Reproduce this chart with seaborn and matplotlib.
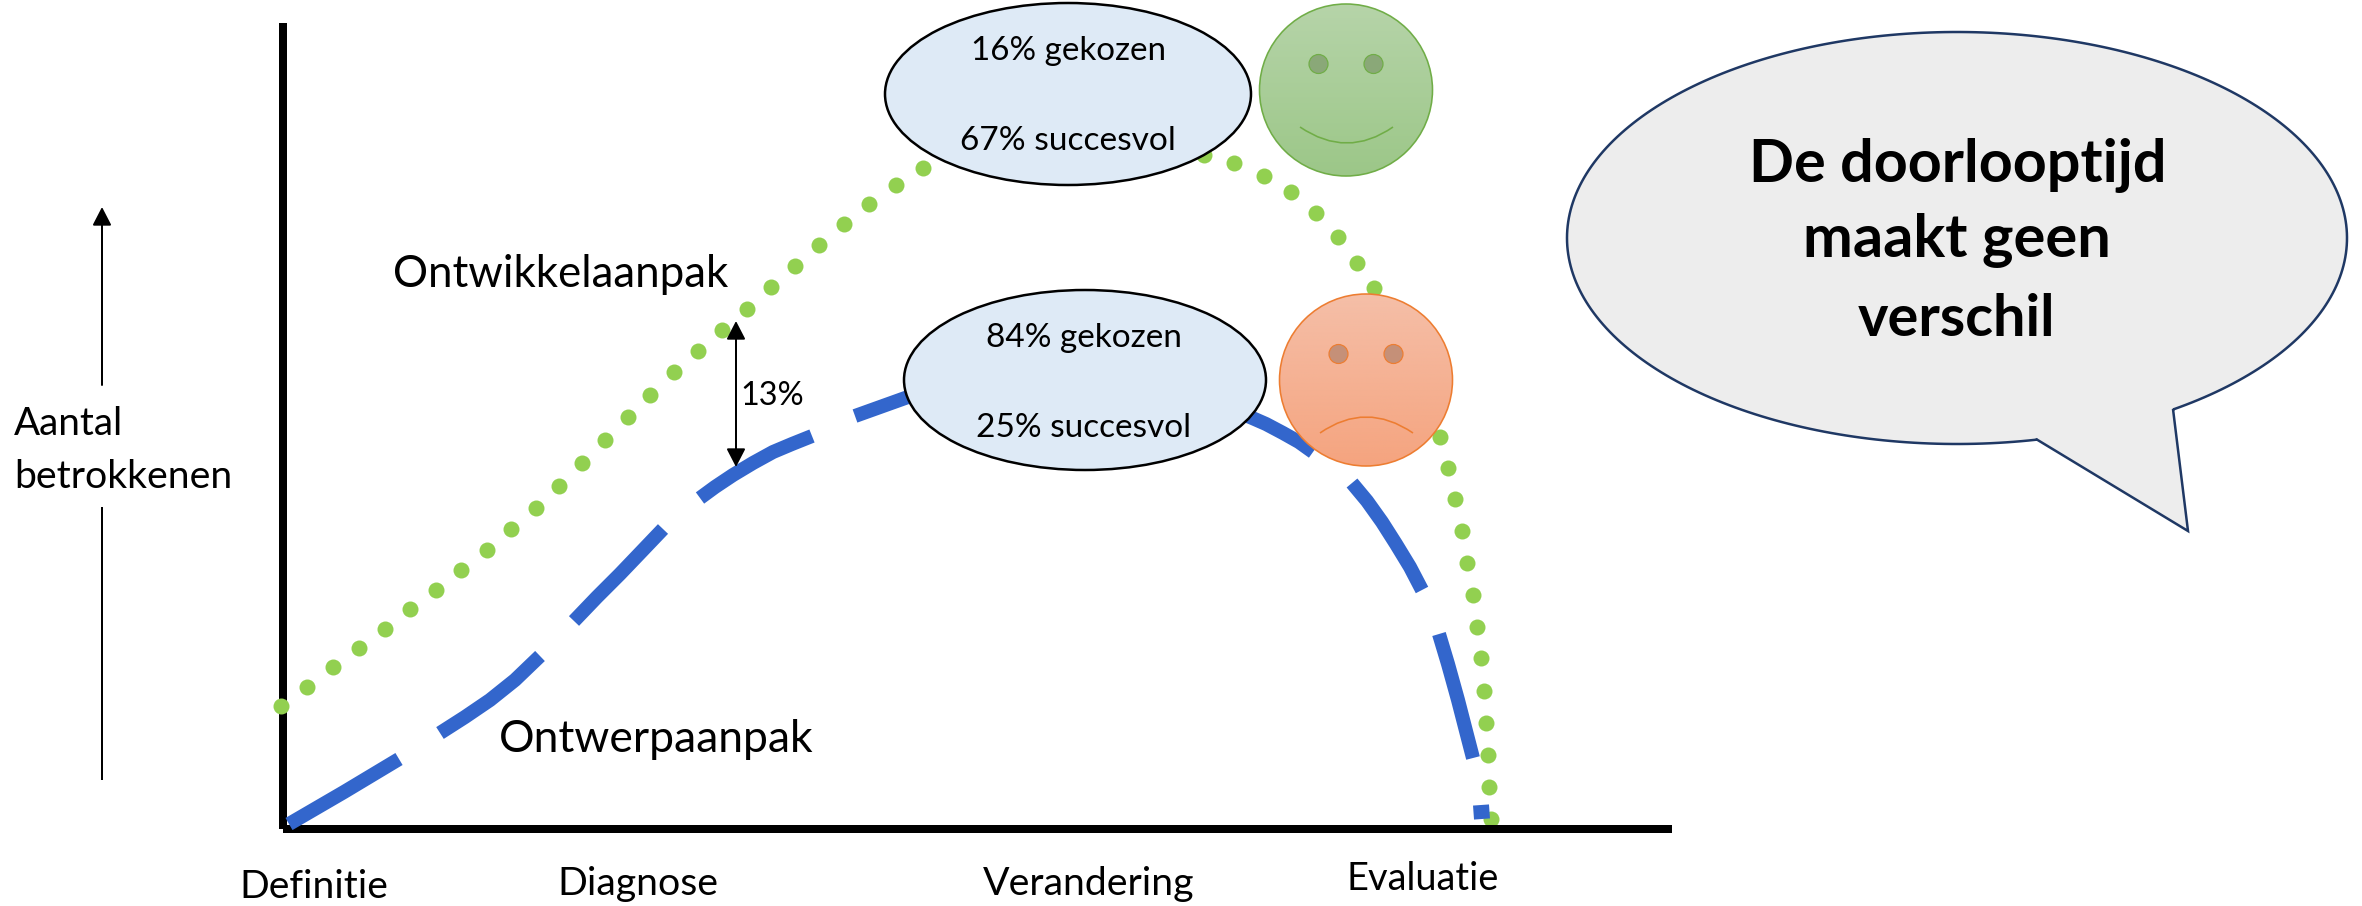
import numpy as np
import pandas as pd
import matplotlib
matplotlib.use("Agg")
import matplotlib.pyplot as plt
from matplotlib.patches import Ellipse, Polygon, PathPatch
from matplotlib.path import Path
from matplotlib.colors import LinearSegmentedColormap
import seaborn as sns

# ---- data (picture pixel scale) ----
green_x = [281, 307, 333, 359, 385, 410, 436, 461, 487, 511, 536, 559, 582, 605, 628, 650, 674, 698, 722, 747,
           771, 795, 819, 844, 869, 896, 923, 950, 978, 1008, 1038, 1070, 1102, 1134, 1165, 1185, 1204, 1234,
           1264, 1291, 1316, 1338, 1357, 1374, 1388, 1401, 1413, 1427, 1440, 1448, 1455, 1462, 1467, 1473,
           1477, 1481, 1484, 1486, 1488, 1489, 1491]
green_y = [706, 687, 667, 648, 629, 609, 590, 570, 550, 529, 508, 486, 463, 440, 417, 395, 372, 351, 330, 309,
           287, 266, 245, 224, 204, 185, 168, 146, 130, 118, 110, 108, 110, 117, 130, 142, 155, 163,
           176, 192, 213, 237, 263, 288, 316, 345, 375, 406, 437, 468, 499, 531, 563, 595,
           627, 658, 691, 723, 755, 787, 819]

blue_seg = [1, 1, 1,
            2, 2, 2, 2, 2,
            3, 3, 3, 3, 3,
            4, 4, 4, 4, 4, 4, 4,
            5, 5, 5,
            6, 6, 6,
            7, 7, 7, 7, 7, 7,
            8, 8, 8, 8, 8, 8,
            9, 9, 9, 9, 9,
            10, 10]
blue_x = [289, 344, 399,
          440, 465, 490, 515, 540,
          574, 597, 620, 642, 663,
          700, 715, 733, 753, 773, 792, 812,
          855, 908, 945,
          980, 1050, 1115,
          1150, 1250, 1266, 1283, 1299, 1313,
          1352, 1367, 1382, 1396, 1410, 1422,
          1439, 1448, 1458, 1466, 1473,
          1481, 1482]
blue_y = [824, 792, 759,
          733, 717, 700, 680, 656,
          621, 597, 574, 551, 529,
          498, 487, 475, 463, 452, 444, 436,
          416, 397, 386,
          378, 372, 375,
          382, 417, 424, 433, 442, 452,
          483, 501, 522, 544, 567, 590,
          634, 664, 700, 731, 758,
          805, 819]

stages = ["Definitie", "Diagnose", "Verandering", "Evaluatie"]
stage_x0 = [239, 557, 983, 1346]
stage_x1 = [387, 718, 1194, 1498]
stage_base = [898, 895, 895, 890]

text_rows = [
    ("16% gekozen", 971, 1166, 60, "normal"),
    ("67% succesvol", 960, 1176, 150, "normal"),
    ("84% gekozen", 986, 1182, 347, "normal"),
    ("25% succesvol", 976, 1191, 437, "normal"),
    ("13%", 740, 804, 405, "normal"),
    ("Aantal", 14, 123, 435, "normal"),
    ("betrokkenen", 14, 232, 488, "normal"),
    ("Ontwikkelaanpak", 393, 728, 287, "normal"),
    ("Ontwerpaanpak", 499, 813, 752, "normal"),
    ("De doorlooptijd", 1749, 2167, 182, "bold"),
    ("maakt geen", 1803, 2111, 257, "bold"),
    ("verschil", 1858, 2056, 336, "bold"),
]

GREEN = "#92d050"
BLUE = "#3366cc"

sns.set_theme(style="white")
plt.rcParams["font.family"] = ["Lato", "DejaVu Sans"]

fig = plt.figure(figsize=(23.62, 9.06), dpi=100)
ax = fig.add_axes([0, 0, 1, 1])
px = 0.72  # points per picture pixel

# chart axes
ax.plot([283, 283], [23, 829], color="black", lw=8 * px, solid_capstyle="butt", zorder=1)
ax.plot([283, 1672], [829, 829], color="black", lw=8 * px, solid_capstyle="butt", zorder=3)

# series
sns.scatterplot(x=green_x, y=green_y, color=GREEN, s=(16 * px) ** 2, linewidth=0, ax=ax, zorder=2, legend=False)
blue = pd.DataFrame({"x": blue_x, "y": blue_y, "seg": blue_seg})
sns.lineplot(data=blue, x="x", y="y", units="seg", estimator=None, sort=False, color=BLUE,
             lw=14 * px, solid_joinstyle="round", ax=ax, zorder=4, legend=False)
for ln in ax.lines[2:]:
    ln.set_solid_capstyle("butt")
ax.lines[-1].set_linewidth(16 * px)
ax.set_xlim(0, 2362)
ax.set_ylim(906, 0)
ax.axis("off")

# arrows
arrow = dict(arrowstyle="-|>,head_width=0.32,head_length=0.62", color="black", lw=2 * px,
             shrinkA=0, shrinkB=0, mutation_scale=18)
ax.annotate("", xy=(102, 207), xytext=(102, 385), arrowprops=arrow, zorder=5)
ax.plot([102, 102], [507, 780], color="black", lw=2 * px, solid_capstyle="butt", zorder=5)
both = dict(arrowstyle="<|-|>,head_width=0.32,head_length=0.62", color="black", lw=2 * px,
            shrinkA=0, shrinkB=0, mutation_scale=18)
ax.annotate("", xy=(736, 321), xytext=(736, 467), arrowprops=both, zorder=5)

# info ellipses
for cx, cy, a, b in [(1068, 94, 183, 91), (1085, 380, 181, 90)]:
    ax.add_patch(Ellipse((cx, cy), 2 * a, 2 * b, fc="#deeaf6", ec="black", lw=2.5 * px, zorder=6))


def face(cx, cy, rx, ry, top, bottom, edge, eye, mouth):
    cmap = LinearSegmentedColormap.from_list("g", [top, bottom])
    grad = np.linspace(0, 1, 256).reshape(-1, 1)
    im = ax.imshow(grad, cmap=cmap, extent=(cx - rx, cx + rx, cy + ry, cy - ry), aspect="auto", zorder=7)
    clip = Ellipse((cx, cy), 2 * rx, 2 * ry, transform=ax.transData, fc="none", ec="none")
    ax.add_patch(clip)
    im.set_clip_path(clip)
    ax.add_patch(Ellipse((cx, cy), 2 * rx, 2 * ry, fc="none", ec=edge, lw=1.6 * px, zorder=8))
    for dx in (-27.5, 27.5):
        ax.add_patch(Ellipse((cx + dx, cy - 26), 19, 19, fc=eye, ec=edge, lw=1.2 * px, zorder=8))
    ax.add_patch(PathPatch(Path(mouth, [Path.MOVETO, Path.CURVE3, Path.CURVE3]), fc="none", ec=edge,
                           lw=1.6 * px, zorder=8))


face(1346, 90, 86.5, 86, "#b6d4a9", "#9cc788", "#70ad47", "#8aa878", [(1300, 127), (1347, 159), (1393, 127)])
face(1366, 380, 86.5, 86, "#f5bfa8", "#f5a47f", "#ed7d31", "#c59078", [(1320, 433), (1366, 401), (1413, 433)])
ax.set_xlim(0, 2362)
ax.set_ylim(906, 0)

# speech bubble
bubble_cx, bubble_cy, bubble_a, bubble_b = 1957, 238, 390, 206
t0 = np.arctan2((439 - bubble_cy) / bubble_b, (2036 - bubble_cx) / bubble_a)
t1 = np.arctan2((409 - bubble_cy) / bubble_b, (2173 - bubble_cx) / bubble_a)
arc = np.linspace(t1, t0 - 2 * np.pi, 300)
outline = np.column_stack([bubble_cx + bubble_a * np.cos(arc), bubble_cy + bubble_b * np.sin(arc)])
outline = np.vstack([outline, [[2036, 439], [2188, 531], [2173, 409]]])
ax.add_patch(Polygon(outline, closed=True, fc="#ededed", ec="#1f3864", lw=2.5 * px, joinstyle="miter", zorder=6))

# text, sized to the width it has in the picture
rend = fig.canvas.get_renderer()


def put(s, x0, x1, base, weight):
    t = ax.text(x0, base, s, ha="left", va="baseline", fontsize=26, weight=weight, color="black", zorder=10)
    w = t.get_window_extent(rend).width
    t.set_fontsize(26 * (x1 - x0) / w)
    return t


for s, x0, x1, base, weight in text_rows:
    put(s, x0, x1, base, weight)
for s, x0, x1, base in zip(stages, stage_x0, stage_x1, stage_base):
    put(s, x0, x1, base, "normal")

fig.savefig("out.png", dpi=100, facecolor="white")
